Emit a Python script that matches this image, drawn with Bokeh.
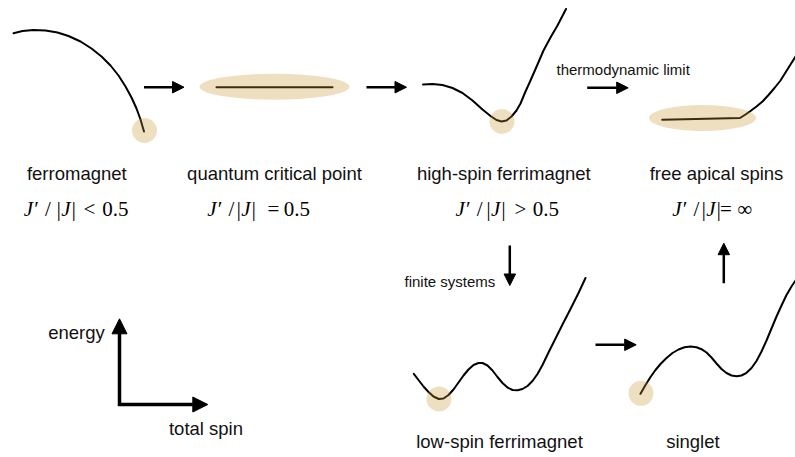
from bokeh.plotting import figure
from bokeh.models import Range1d, Arrow, NormalHead, ColumnDataSource
from bokeh.core.properties import value
from bokeh.embed import file_html
from bokeh.resources import INLINE

# ---- energy-vs-spin sketch curves ----
ferro_x = [13, 22, 33, 45, 57, 68, 80, 91, 101, 110, 118, 125, 131, 136, 140, 143.5]
ferro_y = [32.7, 30.5, 29.5, 30, 32, 35.5, 41, 48, 56, 65, 75, 86, 97, 108, 119, 131]

qcp_x = [216, 332]
qcp_y = [86.7, 86.7]

hs_x = [422.5, 432, 442, 452, 462, 472, 482, 490, 496, 501, 506, 511, 516, 520, 525, 530,
        537, 543, 550, 557, 565.5]
hs_y = [84, 83.5, 84.5, 87.5, 92.5, 100, 109, 115.5, 119.5, 121, 120, 116, 110, 103, 91, 80,
        64, 50, 37, 25, 8.5]

free_x = [661.7, 739.5, 745, 750, 756, 762, 768, 774, 780, 785, 790, 795]
free_y = [119.3, 117.5, 114, 110.5, 106, 101, 94.5, 87.5, 80, 72, 64, 56]

ls_x = [413.3, 418, 423, 428, 433, 438.3, 443, 448, 453, 458, 463, 468, 473, 478, 482, 487,
        492, 497, 502, 507, 512, 517, 522, 527, 532, 537, 542, 548, 555, 562, 570, 578, 585]
ls_y = [373.3, 379.5, 386, 391.5, 396, 398.5, 398, 394.5, 389, 382, 375, 369, 364.5, 362.5,
        362.5, 365, 370, 376.5, 382.5, 387, 389.5, 389.8, 388.5, 385.5, 380.5, 373.5, 364.5,
        352, 338, 324, 308.5, 292.5, 277.5]

sg_x = [640, 645, 650, 655, 660, 666, 672, 678, 684, 690, 696, 701, 706, 711, 716, 721, 726,
        731, 736, 741, 746, 751, 756, 761, 766, 771, 776, 781, 786, 791, 795]
sg_y = [393.3, 384.5, 376.5, 369.5, 363.5, 357.5, 352.5, 349, 346.7, 346, 346.8, 348.7, 352,
        357, 363, 368.5, 372.5, 375, 375.8, 375, 372.3, 367.5, 360.5, 351, 340, 328, 316, 305,
        294.5, 286, 280]

# ground-state markers
gs_x = [144, 501.5, 438.5, 640.5]
gs_y = [130, 121, 398.5, 392.8]
gs_r = [12.5, 12.5, 12.5, 12.5]
band_x = [274, 702]
band_y = [86.3, 117.5]
band_w = [150, 107]
band_h = [26, 26]

# transition arrows
arr_x0 = [143.5, 366, 586.7, 509.3, 595, 723.3]
arr_y0 = [86.7, 86.7, 87.3, 245, 344.3, 282.7]
arr_x1 = [183.5, 406, 627.7, 509.3, 635.7, 723.3]
arr_y1 = [86.7, 86.7, 87.3, 285, 344.3, 242.7]

# axes key arrows
ax_x0 = [119, 117.5]
ax_y0 = [405.5, 404]
ax_x1 = [119, 207.3]
ax_y1 = [318.3, 404]

# labels
phase_names = ["ferromagnet", "quantum critical point", "high-spin ferrimagnet",
               "free apical spins", "low-spin ferrimagnet", "singlet"]
phase_x = [76.3, 274, 503.3, 716, 499, 692.4]
phase_y = [173, 173, 173, 173, 441.3, 441.3]

math_j = ["J\u2032", "J\u2032", "J\u2032", "J\u2032"]
math_j_x = [23.3, 206.7, 455, 671.7]
math_sl = ["/", "/", "/", "/"]
math_sl_x = [47.5, 230.8, 479.2, 695.8]
math_b = ["|J|", "|J|", "|J|", "|J|"]
math_b_x = [55, 235, 484.7, 700]
math_rel = ["<", "=", ">", "="]
math_rel_x = [88.8, 273, 520, 725.3]
math_rhs = ["0.5", "0.5", "0.5", "\u221e"]
math_rhs_x = [101.7, 283.3, 532.3, 736.7]
math_y = 208.3

small_txt = ["thermodynamic limit", "finite systems"]
small_x = [556, 404]
small_y = [68.8, 280.5]

axis_txt = ["energy", "total spin"]
axis_x = [76, 205.5]
axis_y = [332.3, 428]

p = figure(width=795, height=457, x_range=Range1d(0, 795), y_range=Range1d(457, 0),
           output_backend="svg", toolbar_location=None,
           x_axis_location=None, y_axis_location=None, min_border=0)
p.grid.visible = False
p.outline_line_color = None
p.background_fill_color = "white"
p.border_fill_color = "white"

curve_kw = dict(line_color="black", line_width=2, line_join="round", line_cap="round")
for xs, ys in [(ferro_x, ferro_y), (qcp_x, qcp_y), (hs_x, hs_y), (free_x, free_y),
               (ls_x, ls_y), (sg_x, sg_y)]:
    p.line(xs, ys, **curve_kw)

tan = "#C89632"
p.circle(x=gs_x, y=gs_y, radius=gs_r, fill_color=tan, fill_alpha=0.3, line_color=None)
p.ellipse(x=band_x, y=band_y, width=band_w, height=band_h, fill_color=tan, fill_alpha=0.3,
          line_color=None)

arr_src = ColumnDataSource(dict(x0=arr_x0, y0=arr_y0, x1=arr_x1, y1=arr_y1))
p.add_layout(Arrow(source=arr_src, x_start="x0", y_start="y0", x_end="x1", y_end="y1",
                   line_width=2.5, line_color="black",
                   end=NormalHead(size=11.5, fill_color="black", line_color="black", line_width=1)))

ax_src = ColumnDataSource(dict(x0=ax_x0, y0=ax_y0, x1=ax_x1, y1=ax_y1))
p.add_layout(Arrow(source=ax_src, x_start="x0", y_start="y0", x_end="x1", y_end="y1",
                   line_width=3.5, line_color="black",
                   end=NormalHead(size=15, fill_color="black", line_color="black", line_width=1)))

sans = value("Liberation Sans")
p.text(x=phase_x, y=phase_y, text=phase_names, text_font=sans, text_font_size="18.5px",
       text_align="center", text_baseline="alphabetic", text_color="#111111")
p.text(x=axis_x, y=axis_y, text=axis_txt, text_font=sans, text_font_size="18.5px",
       text_align="center", text_baseline="alphabetic", text_color="#111111")
p.text(x=small_x, y=small_y, text=small_txt, text_font=sans, text_font_size="15px",
       text_align="left", text_baseline="alphabetic", text_color="#111111")

serif = value("Liberation Serif")
my = [math_y] * 4
p.text(x=math_j_x, y=my, text=math_j, text_font=serif, text_font_size="21px",
       text_font_style="italic", text_align="left", text_baseline="alphabetic")
p.text(x=math_sl_x, y=my, text=math_sl, text_font=serif, text_font_size="21px",
       text_align="center", text_baseline="alphabetic")
p.text(x=math_b_x, y=my, text=math_b, text_font=serif, text_font_size="21px",
       text_font_style="italic", text_align="left", text_baseline="alphabetic")
p.text(x=math_rel_x, y=my, text=math_rel, text_font=serif, text_font_size="21px",
       text_align="center", text_baseline="alphabetic")
p.text(x=math_rhs_x, y=my, text=math_rhs, text_font=serif, text_font_size="21px",
       text_align="left", text_baseline="alphabetic")

open("out.html", "w").write(file_html(p, INLINE))
